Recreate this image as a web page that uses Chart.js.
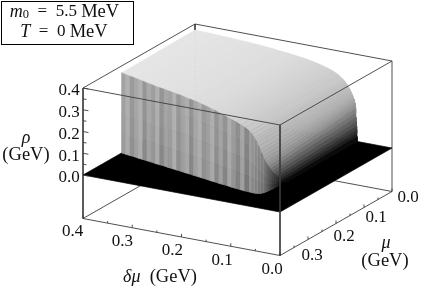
<!DOCTYPE html>
<html>
<head>
<meta charset="utf-8">
<style>
  html, body { margin: 0; padding: 0; background: #fff; }
  canvas { display: block; }
</style>
<script src="https://cdn.jsdelivr.net/npm/chart.js@4"></script>
</head>
<body>
<canvas id="myChart" width="425" height="293"></canvas>
<script>
// surface rows (GeV)
const deltaMu = [.40,.39,.38,.37,.36,.35,.34,.33,.32,.31,.30,.29,.28,.27,.26,.25,.24,.23,.22,.21,.20,.19,.18,.17,.16,.15,.14,.13,.12,.11,.10,.095,.09,.0875,.085,.0825,.08,.0785,.077,.076,.075,.0745,.074,.0735,.073,.0725,.072,.0716,.0712,.0708,.0705];
const rhoBack = [.372,.371,.371,.370,.369,.368,.367,.366,.365,.364,.363,.362,.360,.359,.357,.355,.353,.350,.348,.346,.343,.340,.337,.333,.329,.324,.318,.311,.303,.292,.275,.264,.250,.241,.232,.221,.210,.201,.191,.183,.175,.163,.150,.130,.110,.090,.070,.054,.038,.022,0];
const rhoEdge = [.368,.366,.365,.363,.362,.360,.358,.357,.355,.354,.353,.352,.351,.350,.349,.347,.345,.344,.342,.339,.336,.333,.329,.325,.320,.314,.310,.305,.298,.292,.280,.268,.255,.246,.235,.219,.200,.185,.168,.152,.135,.123,.110,.095,.080,.065,.050,.038,.026,.014,0];
const muEdge = [.262,.2645,.267,.269,.272,.274,.277,.279,.282,.284,.286,.289,.291,.294,.296,.299,.301,.304,.306,.309,.311,.314,.316,.319,.321,.323,.326,.328,.330,.332,.333,.3335,.334,.3335,.333,.332,.330,.328,.325,.322,.318,.314,.310,.305,.300,.293,.285,.279,.273,.267,.260];
// mean height of each wall cell, gives the vertical stripes
const wallRho = [.161,.193,.145,.171,.197,.137,.175,.153,.191,.135,.169,.157,.199,.141,.165,.185,.133,.171,.195,.145,.159,.189,.135,.167,.131,.183,.149,.127,.169,.119,.157,.135,.151,.123,.145,.117,.135,.109,.125,.103,.095,.085,.075,.065,.055,.045,.035,.025,.015,.005];

const rhoTicks = [0,.05,.1,.15,.2,.25,.3,.35,.4];
const deltaTicks = [0,.05,.1,.15,.2,.25,.3,.35,.4];
const muTicks = [0,.05,.1,.15,.2,.25,.3,.35,.4];
const rhoLabels = [[0,"0.0"],[.1,"0.1"],[.2,"0.2"],[.3,"0.3"],[.4,"0.4"]];
const deltaLabels = [[0,"0.0"],[.1,"0.1"],[.2,"0.2"],[.3,"0.3"],[.4,"0.4"]];
const muLabels = [[0,"0.0"],[.1,"0.1"],[.2,"0.2"],[.3,"0.3"]];

// height -> gray level
const shadeRho = [0,.02,.07,.14,.19,.28,.37,.40];
const shadeGray = [0,.1,.33,.58,.68,.78,.9,.92];

const AXIS_MAX = .4, RHO_MIN = -.2;

// oblique view of the box
function project(d, m, r) {
    return {
        x: 392 - 280 * m - 492.5 * d,
        y: 148 + 160 * m - 92.5 * d - 217.5 * r
    };
}

function grayFor(r) {
    let i = 0;
    while (i < shadeRho.length - 2 && r > shadeRho[i + 1]) i++;
    const t = (r - shadeRho[i]) / (shadeRho[i + 1] - shadeRho[i]);
    const g = Math.round(255 * (shadeGray[i] + t * (shadeGray[i + 1] - shadeGray[i])));
    return "rgb(" + g + "," + g + "," + g + ")";
}

var datasets = [];

function polygon(pts, color) {
    datasets.push({
        data: pts.concat([pts[0]]),
        fill: "shape",
        backgroundColor: color,
        borderColor: color,
        borderWidth: 0.7,
        pointRadius: 0
    });
}

function segment(a, b, width) {
    datasets.push({
        data: [a, b],
        fill: false,
        borderColor: "#3c3c3c",
        borderWidth: width || 0.9,
        pointRadius: 0
    });
}

// back edges of the box, hidden by floor and surface
segment(project(AXIS_MAX, 0, .4), project(0, 0, .4));
segment(project(AXIS_MAX, 0, .4), project(AXIS_MAX, AXIS_MAX, .4));
segment(project(AXIS_MAX, 0, .4), project(AXIS_MAX, 0, RHO_MIN));
segment(project(AXIS_MAX, 0, RHO_MIN), project(AXIS_MAX, AXIS_MAX, RHO_MIN));
segment(project(AXIS_MAX, 0, RHO_MIN), project(0, 0, RHO_MIN));

// bottom axes with ticks
segment(project(AXIS_MAX, AXIS_MAX, RHO_MIN), project(0, AXIS_MAX, RHO_MIN));
segment(project(0, AXIS_MAX, RHO_MIN), project(0, 0, RHO_MIN));
segment(project(0, 0, RHO_MIN), project(0, 0, .4));
deltaTicks.forEach(function (d, i) {
    segment(project(d, AXIS_MAX, RHO_MIN), project(d, AXIS_MAX, RHO_MIN + (i % 2 ? .009 : .014)));
});
muTicks.forEach(function (m, i) {
    segment(project(0, m, RHO_MIN), project(0, m, RHO_MIN + (i % 2 ? .009 : .014)));
});
segment(project(AXIS_MAX, AXIS_MAX, .4), project(AXIS_MAX, AXIS_MAX, RHO_MIN));

// floor
polygon([project(0, 0, 0), project(AXIS_MAX, 0, 0), project(AXIS_MAX, AXIS_MAX, 0), project(0, AXIS_MAX, 0)], "#000");

// surface, back to front
const wallLevels = [1, .75, .5, .25, 0];
const wallTint = [.008, .004, -.002, -.008];
for (let k = 0; k < deltaMu.length - 1; k++) {
    const d0 = deltaMu[k], d1 = deltaMu[k + 1];
    const mean = (rhoBack[k] + rhoBack[k + 1] + rhoEdge[k] + rhoEdge[k + 1]) / 4;
    polygon([
        project(d0, 0, rhoBack[k]), project(d1, 0, rhoBack[k + 1]),
        project(d1, muEdge[k + 1], rhoEdge[k + 1]), project(d0, muEdge[k], rhoEdge[k])
    ], grayFor(mean));
    for (let l = 0; l < wallLevels.length - 1; l++) {
        polygon([
            project(d0, muEdge[k], rhoEdge[k] * wallLevels[l]),
            project(d1, muEdge[k + 1], rhoEdge[k + 1] * wallLevels[l]),
            project(d1, muEdge[k + 1], rhoEdge[k + 1] * wallLevels[l + 1]),
            project(d0, muEdge[k], rhoEdge[k] * wallLevels[l + 1])
        ], grayFor(Math.max(wallRho[k] + wallTint[l], 0)));
    }
}

// front edges of the box
segment(project(AXIS_MAX, AXIS_MAX, .4), project(0, AXIS_MAX, .4));
segment(project(0, AXIS_MAX, .4), project(0, 0, .4));
segment(project(0, AXIS_MAX, .4), project(0, AXIS_MAX, RHO_MIN));
rhoTicks.forEach(function (r, i) {
    segment(project(AXIS_MAX, AXIS_MAX, r), project(AXIS_MAX - (i % 2 ? .007 : .011), AXIS_MAX, r));
});

// first dataset is painted last, so flip
datasets.reverse();

const SERIF = '"Liberation Serif"';
const DIGITS = "17px " + SERIF, WORDS = "18.5px " + SERIF, ITALIC = "italic 18px " + SERIF;

// centered line made of several font runs
function textRuns(ctx, cx, cy, runs) {
    let w = 0;
    runs.forEach(function (run) { ctx.font = run[1]; w += ctx.measureText(run[0]).width; });
    let x = cx - w / 2;
    runs.forEach(function (run) {
        ctx.font = run[1];
        ctx.fillText(run[0], x, cy + (run[2] || 0));
        x += ctx.measureText(run[0]).width;
    });
}

const labelsPlugin = {
    id: "labels",
    afterDraw: function (chart) {
        const ctx = chart.ctx;
        const sx = chart.scales.x, sy = chart.scales.y;
        ctx.save();
        ctx.textBaseline = "middle";
        ctx.fillStyle = "#111";

        rhoLabels.forEach(function (t) {
            const p = project(AXIS_MAX, AXIS_MAX, t[0]);
            textRuns(ctx, sx.getPixelForValue(p.x) - 14, sy.getPixelForValue(p.y) + 3, [[t[1], DIGITS]]);
        });
        deltaLabels.forEach(function (t) {
            const p = project(t[0], AXIS_MAX, RHO_MIN);
            textRuns(ctx, sx.getPixelForValue(p.x) - 8 - 6 * t[0], sy.getPixelForValue(p.y) + 14.5 - 4 * t[0], [[t[1], DIGITS]]);
        });
        muLabels.forEach(function (t) {
            const p = project(0, t[0], RHO_MIN);
            textRuns(ctx, sx.getPixelForValue(p.x) + 16 - 40 * t[0], sy.getPixelForValue(p.y) + 6.5 + 33 * t[0], [[t[1], DIGITS]]);
        });

        textRuns(ctx, 26, 138, [["ρ", ITALIC]]);
        textRuns(ctx, 26, 155, [["(GeV)", WORDS]]);
        textRuns(ctx, 160, 277, [["δμ", ITALIC], ["  (GeV)", WORDS]]);
        textRuns(ctx, 386, 243, [["μ", ITALIC]]);
        textRuns(ctx, 385, 261, [["(GeV)", WORDS]]);

        // parameter box
        ctx.fillStyle = "#fff";
        ctx.fillRect(1, 1, 132, 43);
        ctx.strokeStyle = "#000";
        ctx.lineWidth = 1;
        ctx.strokeRect(1.5, 1.5, 132, 43);
        ctx.fillStyle = "#111";
        textRuns(ctx, 64.5, 12, [["m", ITALIC], ["0", "12.5px " + SERIF, 3], ["  =  5.5 ", DIGITS], ["MeV", WORDS]]);
        textRuns(ctx, 64, 32, [["T", ITALIC], ["  =  0 ", DIGITS], ["MeV", WORDS]]);
        ctx.restore();
    }
};

new Chart(document.getElementById("myChart"), {
    type: "line",
    data: { datasets: datasets },
    plugins: [labelsPlugin],
    options: {
        responsive: false,
        animation: false,
        parsing: false,
        normalized: false,
        layout: { padding: 0 },
        plugins: { legend: { display: false }, tooltip: { enabled: false } },
        scales: {
            x: { type: "linear", display: false, min: 0, max: 425 },
            y: { type: "linear", display: false, min: 0, max: 293, reverse: true }
        }
    }
});
</script>
</body>
</html>
